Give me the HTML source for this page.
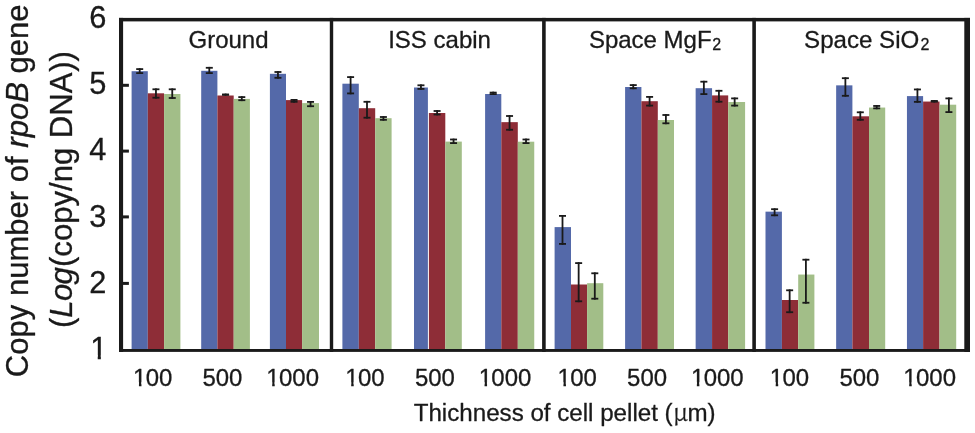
<!DOCTYPE html>
<html lang="en"><head><meta charset="utf-8"><title>Copy number of rpoB gene</title>
<style>html,body{margin:0;padding:0;background:#fff}svg{display:block;will-change:transform}text{font-family:"Liberation Sans",Arial,Helvetica,sans-serif;fill:#1a1a1a;stroke:#1a1a1a;stroke-width:0.3px;stroke-linejoin:round}.mu{font-family:"Noto Serif CJK SC","Liberation Serif",serif;stroke-width:0.25px}</style></head><body>
<svg width="975" height="433" viewBox="0 0 975 433">
<rect x="0" y="0" width="975" height="433" fill="#fff"/>
<g>
<rect x="131.60" y="71.20" width="16.20" height="278.80" fill="#5469A9"/>
<rect x="147.80" y="93.30" width="16.30" height="256.70" fill="#8E2D37"/>
<rect x="164.10" y="94.00" width="16.30" height="256.00" fill="#A2BE88"/>
<rect x="201.20" y="70.80" width="16.20" height="279.20" fill="#5469A9"/>
<rect x="217.40" y="95.50" width="16.30" height="254.50" fill="#8E2D37"/>
<rect x="233.70" y="98.90" width="16.20" height="251.10" fill="#A2BE88"/>
<rect x="269.90" y="73.80" width="16.10" height="276.20" fill="#5469A9"/>
<rect x="286.00" y="100.10" width="16.10" height="249.90" fill="#8E2D37"/>
<rect x="302.10" y="103.10" width="16.90" height="246.90" fill="#A2BE88"/>
<rect x="342.40" y="83.70" width="16.40" height="266.30" fill="#5469A9"/>
<rect x="358.80" y="108.20" width="16.40" height="241.80" fill="#8E2D37"/>
<rect x="375.20" y="118.20" width="16.40" height="231.80" fill="#A2BE88"/>
<rect x="414.00" y="87.50" width="13.90" height="262.50" fill="#5469A9"/>
<rect x="428.90" y="113.00" width="16.40" height="237.00" fill="#8E2D37"/>
<rect x="445.30" y="141.60" width="16.50" height="208.40" fill="#A2BE88"/>
<rect x="485.10" y="94.00" width="16.20" height="256.00" fill="#5469A9"/>
<rect x="501.30" y="122.15" width="16.50" height="227.85" fill="#8E2D37"/>
<rect x="517.80" y="141.70" width="16.45" height="208.30" fill="#A2BE88"/>
<rect x="554.60" y="227.10" width="16.40" height="122.90" fill="#5469A9"/>
<rect x="571.00" y="284.50" width="16.10" height="65.50" fill="#8E2D37"/>
<rect x="587.10" y="283.20" width="16.20" height="66.80" fill="#A2BE88"/>
<rect x="625.10" y="87.00" width="16.30" height="263.00" fill="#5469A9"/>
<rect x="641.40" y="101.20" width="16.40" height="248.80" fill="#8E2D37"/>
<rect x="657.80" y="120.00" width="16.20" height="230.00" fill="#A2BE88"/>
<rect x="695.65" y="88.20" width="16.41" height="261.80" fill="#5469A9"/>
<rect x="712.06" y="95.40" width="16.14" height="254.60" fill="#8E2D37"/>
<rect x="728.20" y="102.00" width="16.90" height="248.00" fill="#A2BE88"/>
<rect x="765.50" y="211.65" width="16.40" height="138.35" fill="#5469A9"/>
<rect x="781.90" y="300.00" width="16.30" height="50.00" fill="#8E2D37"/>
<rect x="798.20" y="274.55" width="16.20" height="75.45" fill="#A2BE88"/>
<rect x="836.15" y="85.35" width="16.25" height="264.65" fill="#5469A9"/>
<rect x="852.40" y="116.30" width="16.60" height="233.70" fill="#8E2D37"/>
<rect x="869.00" y="107.55" width="16.20" height="242.45" fill="#A2BE88"/>
<rect x="906.95" y="96.10" width="16.15" height="253.90" fill="#5469A9"/>
<rect x="923.10" y="101.55" width="16.40" height="248.45" fill="#8E2D37"/>
<rect x="939.50" y="104.70" width="16.70" height="245.30" fill="#A2BE88"/>
</g>
<g fill="#1a1a1a">
<rect x="138.80" y="68.20" width="1.8" height="5.80"/>
<rect x="136.20" y="68.20" width="7.0" height="1.8"/>
<rect x="136.20" y="72.20" width="7.0" height="1.8"/>
<rect x="155.05" y="88.40" width="1.8" height="10.20"/>
<rect x="152.45" y="88.40" width="7.0" height="1.8"/>
<rect x="152.45" y="96.80" width="7.0" height="1.8"/>
<rect x="171.35" y="88.40" width="1.8" height="10.50"/>
<rect x="168.75" y="88.40" width="7.0" height="1.8"/>
<rect x="168.75" y="97.10" width="7.0" height="1.8"/>
<rect x="208.40" y="66.90" width="1.8" height="7.10"/>
<rect x="205.80" y="66.90" width="7.0" height="1.8"/>
<rect x="205.80" y="72.20" width="7.0" height="1.8"/>
<rect x="224.65" y="93.60" width="1.8" height="2.10"/>
<rect x="222.05" y="93.60" width="7.0" height="1.8"/>
<rect x="222.05" y="93.90" width="7.0" height="1.8"/>
<rect x="240.90" y="96.20" width="1.8" height="4.90"/>
<rect x="238.30" y="96.20" width="7.0" height="1.8"/>
<rect x="238.30" y="99.30" width="7.0" height="1.8"/>
<rect x="277.05" y="71.10" width="1.8" height="7.60"/>
<rect x="274.45" y="71.10" width="7.0" height="1.8"/>
<rect x="274.45" y="76.90" width="7.0" height="1.8"/>
<rect x="293.15" y="99.00" width="1.8" height="3.70"/>
<rect x="290.55" y="99.00" width="7.0" height="1.8"/>
<rect x="290.55" y="100.90" width="7.0" height="1.8"/>
<rect x="309.65" y="101.00" width="1.8" height="6.10"/>
<rect x="307.05" y="101.00" width="7.0" height="1.8"/>
<rect x="307.05" y="105.30" width="7.0" height="1.8"/>
<rect x="349.70" y="76.20" width="1.8" height="18.10"/>
<rect x="347.10" y="76.20" width="7.0" height="1.8"/>
<rect x="347.10" y="92.50" width="7.0" height="1.8"/>
<rect x="366.10" y="100.90" width="1.8" height="17.70"/>
<rect x="363.50" y="100.90" width="7.0" height="1.8"/>
<rect x="363.50" y="116.80" width="7.0" height="1.8"/>
<rect x="382.50" y="116.10" width="1.8" height="4.60"/>
<rect x="379.90" y="116.10" width="7.0" height="1.8"/>
<rect x="379.90" y="118.90" width="7.0" height="1.8"/>
<rect x="420.05" y="84.40" width="1.8" height="5.40"/>
<rect x="417.45" y="84.40" width="7.0" height="1.8"/>
<rect x="417.45" y="88.00" width="7.0" height="1.8"/>
<rect x="436.20" y="110.10" width="1.8" height="5.30"/>
<rect x="433.60" y="110.10" width="7.0" height="1.8"/>
<rect x="433.60" y="113.60" width="7.0" height="1.8"/>
<rect x="452.65" y="138.60" width="1.8" height="5.40"/>
<rect x="450.05" y="138.60" width="7.0" height="1.8"/>
<rect x="450.05" y="142.20" width="7.0" height="1.8"/>
<rect x="492.30" y="91.70" width="1.8" height="3.30"/>
<rect x="489.70" y="91.70" width="7.0" height="1.8"/>
<rect x="489.70" y="93.20" width="7.0" height="1.8"/>
<rect x="508.65" y="115.10" width="1.8" height="15.55"/>
<rect x="506.05" y="115.10" width="7.0" height="1.8"/>
<rect x="506.05" y="128.85" width="7.0" height="1.8"/>
<rect x="525.12" y="138.60" width="1.8" height="5.40"/>
<rect x="522.52" y="138.60" width="7.0" height="1.8"/>
<rect x="522.52" y="142.20" width="7.0" height="1.8"/>
<rect x="561.60" y="215.00" width="1.8" height="29.80"/>
<rect x="559.00" y="215.00" width="7.0" height="1.8"/>
<rect x="559.00" y="243.00" width="7.0" height="1.8"/>
<rect x="577.75" y="262.20" width="1.8" height="40.00"/>
<rect x="575.15" y="262.20" width="7.0" height="1.8"/>
<rect x="575.15" y="300.40" width="7.0" height="1.8"/>
<rect x="593.90" y="272.40" width="1.8" height="27.20"/>
<rect x="591.30" y="272.40" width="7.0" height="1.8"/>
<rect x="591.30" y="297.80" width="7.0" height="1.8"/>
<rect x="632.35" y="84.20" width="1.8" height="5.00"/>
<rect x="629.75" y="84.20" width="7.0" height="1.8"/>
<rect x="629.75" y="87.40" width="7.0" height="1.8"/>
<rect x="648.70" y="96.00" width="1.8" height="10.50"/>
<rect x="646.10" y="96.00" width="7.0" height="1.8"/>
<rect x="646.10" y="104.70" width="7.0" height="1.8"/>
<rect x="665.00" y="114.10" width="1.8" height="10.10"/>
<rect x="662.40" y="114.10" width="7.0" height="1.8"/>
<rect x="662.40" y="122.40" width="7.0" height="1.8"/>
<rect x="702.96" y="80.80" width="1.8" height="14.20"/>
<rect x="700.36" y="80.80" width="7.0" height="1.8"/>
<rect x="700.36" y="93.20" width="7.0" height="1.8"/>
<rect x="718.03" y="89.90" width="1.8" height="12.70"/>
<rect x="715.43" y="89.90" width="7.0" height="1.8"/>
<rect x="715.43" y="100.80" width="7.0" height="1.8"/>
<rect x="733.75" y="97.50" width="1.8" height="9.00"/>
<rect x="731.15" y="97.50" width="7.0" height="1.8"/>
<rect x="731.15" y="104.70" width="7.0" height="1.8"/>
<rect x="773.70" y="208.30" width="1.8" height="7.90"/>
<rect x="771.10" y="208.30" width="7.0" height="1.8"/>
<rect x="771.10" y="214.40" width="7.0" height="1.8"/>
<rect x="788.75" y="289.40" width="1.8" height="23.70"/>
<rect x="786.15" y="289.40" width="7.0" height="1.8"/>
<rect x="786.15" y="311.30" width="7.0" height="1.8"/>
<rect x="805.00" y="258.80" width="1.8" height="44.85"/>
<rect x="802.40" y="258.80" width="7.0" height="1.8"/>
<rect x="802.40" y="301.85" width="7.0" height="1.8"/>
<rect x="844.48" y="77.30" width="1.8" height="19.40"/>
<rect x="841.88" y="77.30" width="7.0" height="1.8"/>
<rect x="841.88" y="94.90" width="7.0" height="1.8"/>
<rect x="859.40" y="111.40" width="1.8" height="9.30"/>
<rect x="856.80" y="111.40" width="7.0" height="1.8"/>
<rect x="856.80" y="118.90" width="7.0" height="1.8"/>
<rect x="875.80" y="105.05" width="1.8" height="4.20"/>
<rect x="873.20" y="105.05" width="7.0" height="1.8"/>
<rect x="873.20" y="107.45" width="7.0" height="1.8"/>
<rect x="916.53" y="88.55" width="1.8" height="14.20"/>
<rect x="913.93" y="88.55" width="7.0" height="1.8"/>
<rect x="913.93" y="100.95" width="7.0" height="1.8"/>
<rect x="933.40" y="100.05" width="1.8" height="2.50"/>
<rect x="930.80" y="100.05" width="7.0" height="1.8"/>
<rect x="930.80" y="100.75" width="7.0" height="1.8"/>
<rect x="948.00" y="97.50" width="1.8" height="15.50"/>
<rect x="945.40" y="97.50" width="7.0" height="1.8"/>
<rect x="945.40" y="111.20" width="7.0" height="1.8"/>
</g>
<g fill="#1a1a1a">
<rect x="119" y="17.9" width="851" height="3.5"/>
<rect x="119" y="349.0" width="851" height="2.9"/>
<rect x="119" y="17.9" width="4.1" height="334.0"/>
<rect x="964.3" y="17.9" width="5.7" height="334.0"/>
<rect x="329.8" y="17.9" width="3.4" height="334.0"/>
<rect x="542.1" y="17.9" width="3.6" height="334.0"/>
<rect x="752.3" y="17.9" width="3.6" height="334.0"/>
<rect x="122" y="83.80" width="6.9" height="3.0"/>
<rect x="122" y="149.60" width="6.9" height="3.0"/>
<rect x="122" y="215.40" width="6.9" height="3.0"/>
<rect x="122" y="281.90" width="6.9" height="3.0"/>
</g>
<text transform="translate(89.17 27.5) scale(1 1.025)" font-size="30.8">6</text>
<text transform="translate(89.17 93.85) scale(1 1.025)" font-size="30.8">5</text>
<text transform="translate(89.17 160.2) scale(1 1.025)" font-size="30.8">4</text>
<text transform="translate(89.17 226.55) scale(1 1.025)" font-size="30.8">3</text>
<text transform="translate(89.17 292.9) scale(1 1.025)" font-size="30.8">2</text>
<text transform="translate(90.17 359.25) scale(1 1.025)" font-size="30.8">1</text>
<text transform="translate(132.40 385.6) scale(1 1.035)" font-size="24"><tspan dx="0.7">1</tspan><tspan dx="-0.7">00</tspan></text>
<text transform="translate(202.40 385.6) scale(1 1.035)" font-size="24">500</text>
<text transform="translate(265.65 385.6) scale(1 1.035)" font-size="24"><tspan dx="0.7">1</tspan><tspan dx="-0.7">000</tspan></text>
<text transform="translate(344.65 385.6) scale(1 1.035)" font-size="24"><tspan dx="0.7">1</tspan><tspan dx="-0.7">00</tspan></text>
<text transform="translate(414.90 385.6) scale(1 1.035)" font-size="24">500</text>
<text transform="translate(478.00 385.6) scale(1 1.035)" font-size="24"><tspan dx="0.7">1</tspan><tspan dx="-0.7">000</tspan></text>
<text transform="translate(556.90 385.6) scale(1 1.035)" font-size="24"><tspan dx="0.7">1</tspan><tspan dx="-0.7">00</tspan></text>
<text transform="translate(627.05 385.6) scale(1 1.035)" font-size="24">500</text>
<text transform="translate(690.30 385.6) scale(1 1.035)" font-size="24"><tspan dx="0.7">1</tspan><tspan dx="-0.7">000</tspan></text>
<text transform="translate(769.15 385.6) scale(1 1.035)" font-size="24"><tspan dx="0.7">1</tspan><tspan dx="-0.7">00</tspan></text>
<text transform="translate(839.40 385.6) scale(1 1.035)" font-size="24">500</text>
<text transform="translate(902.65 385.6) scale(1 1.035)" font-size="24"><tspan dx="0.7">1</tspan><tspan dx="-0.7">000</tspan></text>
<g fill="#fff">
<rect x="91.22" y="355.29" width="6.50" height="5.56"/>
<rect x="100.84" y="355.29" width="6.26" height="5.56"/>
<rect x="133.63" y="382.14" width="5.31" height="5.06"/>
<rect x="141.46" y="382.14" width="5.12" height="5.06"/>
<rect x="266.88" y="382.14" width="5.31" height="5.06"/>
<rect x="274.71" y="382.14" width="5.12" height="5.06"/>
<rect x="345.88" y="382.14" width="5.31" height="5.06"/>
<rect x="353.71" y="382.14" width="5.12" height="5.06"/>
<rect x="479.23" y="382.14" width="5.31" height="5.06"/>
<rect x="487.06" y="382.14" width="5.12" height="5.06"/>
<rect x="558.13" y="382.14" width="5.31" height="5.06"/>
<rect x="565.96" y="382.14" width="5.12" height="5.06"/>
<rect x="691.53" y="382.14" width="5.31" height="5.06"/>
<rect x="699.36" y="382.14" width="5.12" height="5.06"/>
<rect x="770.38" y="382.14" width="5.31" height="5.06"/>
<rect x="778.21" y="382.14" width="5.12" height="5.06"/>
<rect x="903.88" y="382.14" width="5.31" height="5.06"/>
<rect x="911.71" y="382.14" width="5.12" height="5.06"/>
</g>
<text x="188.5" y="48.2" font-size="24.0">Ground</text>
<text x="388.2" y="48.1" font-size="24.0">ISS cabin</text>
<text x="588.9" y="48.1" font-size="24.0">Space MgF<tspan font-size="16" dy="1.6" dx="0.6">2</tspan></text>
<text x="804.1" y="48.1" font-size="24.1">Space SiO<tspan font-size="16" dy="1.6" dx="1.2">2</tspan></text>
<text x="413.7" y="420.9" font-size="24.15">Thichness of cell pellet (</text>
<text class="mu" x="672.9" y="420.9" font-size="24">μ</text>
<text x="687.4" y="420.9" font-size="24.15">m)</text>
<text transform="translate(28.3 377.2) rotate(-90)" font-size="31.05">Copy number of <tspan font-style="italic">rpoB</tspan> gene</text>
<text transform="translate(72 328.1) rotate(-90)" font-size="31.15">(<tspan font-style="italic">L<tspan dx="-0.6">o</tspan><tspan dx="-0.7">g</tspan></tspan>(copy/ng <tspan dx="0.8">DNA</tspan><tspan dx="0.6">))</tspan></text>
</svg></body></html>
